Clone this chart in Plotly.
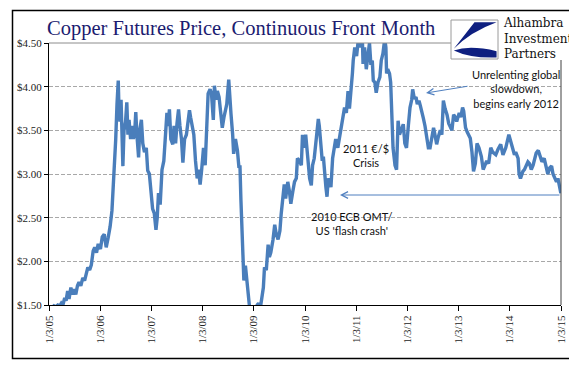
import plotly.graph_objects as go

# ---------------- data ----------------
p2005 = [("2005-01-03",1.48),("2005-01-20",1.46),("2005-02-07",1.49),("2005-02-22",1.48),("2005-03-07",1.50),
         ("2005-03-21",1.49),("2005-04-01",1.52),("2005-04-12",1.50),("2005-04-25",1.58),("2005-05-05",1.55),
         ("2005-05-16",1.66),("2005-05-26",1.57),("2005-06-08",1.70),("2005-06-20",1.62),("2005-07-01",1.68),
         ("2005-07-13",1.62),("2005-07-25",1.72),("2005-08-05",1.76),("2005-08-18",1.72),("2005-09-01",1.81),
         ("2005-09-14",1.78),("2005-09-26",1.88),("2005-10-07",1.93),("2005-10-20",1.90),("2005-11-01",1.96),
         ("2005-11-14",2.12),("2005-11-25",2.16),("2005-12-08",2.10),("2005-12-20",2.20)]
p2006 = [("2006-01-05",2.14),("2006-01-18",2.28),("2006-02-01",2.31),("2006-02-15",2.16),("2006-03-01",2.27),
         ("2006-03-15",2.40),("2006-03-28",2.58),("2006-04-07",2.85),("2006-04-14",3.19),("2006-04-24",3.40),
         ("2006-05-03",3.80),("2006-05-08",3.99),("2006-05-12",4.07),("2006-05-17",3.75),("2006-05-24",3.60),
         ("2006-06-01",3.85),("2006-06-08",3.40),("2006-06-14",3.09),("2006-06-22",3.50),("2006-07-03",3.60),
         ("2006-07-12",3.82),("2006-07-20",3.45),("2006-07-28",3.62),("2006-08-08",3.40),("2006-08-17",3.55),
         ("2006-08-28",3.40),("2006-09-07",3.50),("2006-09-14",3.71),("2006-09-22",3.45),("2006-10-04",3.19),
         ("2006-10-12",3.50),("2006-10-24",3.62),("2006-11-03",3.35),("2006-11-15",3.25),("2006-11-28",3.30),
         ("2006-12-08",3.04),("2006-12-20",3.00)]
p2007 = [("2007-01-03",2.80),("2007-01-12",2.60),("2007-01-24",2.55),("2007-02-05",2.36),("2007-02-14",2.50),
         ("2007-02-23",2.78),("2007-03-07",2.65),("2007-03-20",3.05),("2007-04-02",3.15),("2007-04-12",3.45),
         ("2007-04-24",3.70),("2007-05-03",3.55),("2007-05-12",3.74),("2007-05-22",3.40),("2007-06-05",3.34),
         ("2007-06-14",3.55),("2007-06-25",3.35),("2007-07-05",3.58),("2007-07-16",3.74),("2007-07-26",3.55),
         ("2007-08-06",3.40),("2007-08-16",3.13),("2007-08-28",3.40),("2007-09-10",3.45),("2007-09-20",3.55),
         ("2007-10-02",3.73),("2007-10-10",3.65),("2007-10-22",3.52),("2007-11-02",3.45),("2007-11-14",3.15),
         ("2007-11-26",2.95),("2007-12-06",3.05),("2007-12-17",2.88),("2007-12-28",3.05)]
p2008 = [("2008-01-10",3.30),("2008-01-22",3.10),("2008-02-04",3.50),("2008-02-12",3.92),("2008-02-26",3.97),
         ("2008-03-07",3.92),("2008-03-20",3.62),("2008-03-28",4.01),("2008-04-08",3.85),("2008-04-18",3.95),
         ("2008-04-30",3.88),("2008-05-12",3.70),("2008-05-23",3.53),("2008-06-04",3.65),("2008-06-14",3.74),
         ("2008-06-24",3.80),("2008-07-08",4.08),("2008-07-16",3.85),("2008-07-24",3.69),("2008-08-05",3.45),
         ("2008-08-12",3.23),("2008-08-25",3.40),("2008-09-08",3.27),("2008-09-19",3.07),("2008-09-26",3.10),
         ("2008-10-03",2.70),("2008-10-08",2.45),("2008-10-15",2.08),("2008-10-24",1.78),("2008-11-04",1.95),
         ("2008-11-12",1.80),("2008-11-20",1.62),("2008-12-05",1.45),("2008-12-12",1.40),("2008-12-23",1.30)]
p2009 = [("2009-01-05",1.45),("2009-01-15",1.40),("2009-01-27",1.50),("2009-02-06",1.52),("2009-02-17",1.45),
         ("2009-03-02",1.58),("2009-03-12",1.70),("2009-03-20",1.93),("2009-04-02",1.90),("2009-04-15",2.19),
         ("2009-04-24",2.05),("2009-05-04",2.10),("2009-05-20",2.25),("2009-06-01",2.42),("2009-06-12",2.31),
         ("2009-06-25",2.25),("2009-07-08",2.35),("2009-07-17",2.54),("2009-07-28",2.70),("2009-08-08",2.88),
         ("2009-08-18",2.72),("2009-09-02",2.91),("2009-09-14",2.80),("2009-09-24",2.66),("2009-10-08",2.80),
         ("2009-10-20",2.91),("2009-11-02",2.95),("2009-11-10",3.18),("2009-11-25",3.15),("2009-12-08",3.10),
         ("2009-12-16",3.45),("2009-12-31",3.30)]
p2010 = [("2010-01-08",3.45),("2010-01-22",3.18),("2010-02-05",2.95),("2010-02-17",2.87),("2010-02-26",3.10),
         ("2010-03-10",3.18),("2010-03-22",3.40),("2010-04-08",3.63),("2010-04-15",3.55),("2010-04-26",3.37),
         ("2010-05-06",3.15),("2010-05-14",3.20),("2010-05-22",3.00),("2010-06-01",2.85),("2010-06-09",2.74),
         ("2010-06-18",2.95),("2010-06-27",2.91),("2010-07-07",2.85),("2010-07-19",3.18),("2010-07-30",3.30),
         ("2010-08-10",3.40),("2010-08-25",3.30),("2010-09-08",3.45),("2010-09-20",3.57),("2010-10-01",3.65),
         ("2010-10-12",3.76),("2010-10-25",3.70),("2010-11-06",3.95),("2010-11-16",3.75),("2010-11-28",4.07),
         ("2010-12-07",4.15),("2010-12-13",4.30),("2010-12-24",4.45)]
p2011 = [("2011-01-06",4.35),("2011-01-19",4.55),("2011-01-28",4.45),("2011-02-09",4.55),("2011-02-15",4.62),
         ("2011-02-21",4.26),("2011-03-04",4.45),("2011-03-16",4.20),("2011-03-29",4.38),("2011-04-08",4.50),
         ("2011-04-18",4.25),("2011-04-28",4.30),("2011-05-05",4.07),("2011-05-16",4.05),("2011-05-26",3.93),
         ("2011-06-08",4.05),("2011-06-21",4.11),("2011-07-01",4.30),("2011-07-13",4.38),("2011-07-26",4.55),
         ("2011-08-03",4.45),("2011-08-08",4.15),("2011-08-16",4.20),("2011-08-29",4.15),("2011-09-06",4.05),
         ("2011-09-12",3.76),("2011-09-23",3.30),("2011-09-30",3.20),("2011-10-07",3.10),("2011-10-18",3.05),
         ("2011-10-29",3.61),("2011-11-08",3.45),("2011-11-20",3.50),("2011-12-05",3.57),("2011-12-16",3.35),
         ("2011-12-28",3.30)]
p2012 = [("2012-01-10",3.55),("2012-01-22",3.76),("2012-02-03",3.85),("2012-02-10",3.97),("2012-02-22",3.86),
         ("2012-03-05",3.88),("2012-03-14",3.80),("2012-03-26",3.84),("2012-04-05",3.78),("2012-04-16",3.68),
         ("2012-04-26",3.64),("2012-05-08",3.55),("2012-05-22",3.37),("2012-06-01",3.30),("2012-06-13",3.30),
         ("2012-06-25",3.40),("2012-07-08",3.53),("2012-07-18",3.45),("2012-07-30",3.34),("2012-08-10",3.42),
         ("2012-08-25",3.50),("2012-09-05",3.45),("2012-09-16",3.84),("2012-09-28",3.75),("2012-10-12",3.68),
         ("2012-10-24",3.58),("2012-11-06",3.53),("2012-11-16",3.50),("2012-11-28",3.68),("2012-12-10",3.65),
         ("2012-12-20",3.60)]
p2013 = [("2013-01-07",3.70),("2013-01-18",3.65),("2013-01-31",3.76),("2013-02-08",3.72),("2013-02-21",3.53),
         ("2013-03-05",3.48),("2013-03-27",3.41),("2013-04-08",3.25),("2013-04-19",3.03),("2013-05-02",3.12),
         ("2013-05-14",3.35),("2013-05-28",3.30),("2013-06-14",3.20),("2013-06-27",3.05),("2013-07-10",3.10),
         ("2013-07-22",3.15),("2013-08-05",3.12),("2013-08-20",3.30),("2013-09-03",3.25),("2013-09-25",3.22),
         ("2013-10-10",3.28),("2013-10-30",3.34),("2013-11-15",3.22),("2013-12-05",3.30),("2013-12-27",3.45)]
p2014 = [("2014-01-10",3.35),("2014-01-22",3.30),("2014-02-05",3.22),("2014-02-14",3.25),("2014-03-03",3.18),
         ("2014-03-10",3.00),("2014-03-20",2.95),("2014-04-06",3.03),("2014-04-17",3.05),("2014-04-30",3.10),
         ("2014-05-12",3.14),("2014-05-23",3.12),("2014-06-05",3.05),("2014-06-18",3.10),("2014-07-01",3.18),
         ("2014-07-10",3.24),("2014-07-25",3.27),("2014-08-08",3.18),("2014-08-20",3.14),("2014-09-05",3.18),
         ("2014-09-20",3.07),("2014-10-01",3.00),("2014-10-14",3.07),("2014-10-28",3.09),("2014-11-07",3.00),
         ("2014-11-18",2.95),("2014-12-02",2.91),("2014-12-12",2.95),("2014-12-22",2.85),("2015-01-02",2.78)]

tick_dates = ["2005-01-03","2006-01-03","2007-01-03","2008-01-03","2009-01-03","2010-01-03",
              "2011-01-03","2012-01-03","2013-01-03","2014-01-03","2015-01-03"]
tick_labels = ["1/3/05","1/3/06","1/3/07","1/3/08","1/3/09","1/3/10",
               "1/3/11","1/3/12","1/3/13","1/3/14","1/3/15"]
y_ticks = [1.5, 2.0, 2.5, 3.0, 3.5, 4.0, 4.5]
y_labels = ["$1.50", "$2.00", "$2.50", "$3.00", "$3.50", "$4.00", "$4.50"]

series = p2005 + p2006 + p2007 + p2008 + p2009 + p2010 + p2011 + p2012 + p2013 + p2014
dates = [d for d, _ in series]
prices = [v for _, v in series]

# ---------------- layout helpers ----------------
W, H = 577, 368
PL, PR, PT, PB = 41, 553, 35, 297   # plot area in pixels

def px(x, y):
    return (x - PL) / (PR - PL), (PB - y) / (PB - PT)

def rect(x0, y0, x1, y1, **kw):
    a, b = px(x0, y0)
    c, d = px(x1, y1)
    return dict(type="rect", xref="paper", yref="paper", x0=a, y0=d, x1=c, y1=b, **kw)

def line(x0, y0, x1, y1, **kw):
    a, b = px(x0, y0)
    c, d = px(x1, y1)
    return dict(type="line", xref="paper", yref="paper", x0=a, y0=b, x1=c, y1=d, **kw)

# logo box
LX0, LY0, LX1, LY1 = 443, 12, 490, 51
def lb(u, v):
    x, y = px(LX0 + u * (LX1 - LX0), LY0 + v * (LY1 - LY0))
    return f"{x:.5f},{y:.5f}"

fig = go.Figure()
fig.add_trace(go.Scatter(x=dates, y=prices, mode="lines",
                         line=dict(color="#4A7EBB", width=3.4), showlegend=False,
                         hoverinfo="skip"))

shapes = [
    line(PL, PT, 443, PT, line=dict(color="#8C8C8C", width=1), layer="above"),
    rect(443, 3, 572, 51.5, fillcolor="white", line=dict(width=0), layer="above"),
    line(PR, 52, PR, PB, line=dict(color="#404040", width=1), layer="above"),
    rect(LX0, LY0, LX1, LY1, fillcolor="white", line=dict(color="#9A9A9A", width=1), layer="above"),
    dict(type="path", xref="paper", yref="paper", layer="above",
         path=f"M{lb(0.50,0.06)} L{lb(0.97,0.06)} Q{lb(0.42,0.30)} {lb(0.06,0.74)} Z",
         fillcolor="#0E1F80", line=dict(width=0)),
    dict(type="path", xref="paper", yref="paper", layer="above",
         path=f"M{lb(0.06,0.78)} Q{lb(0.40,0.64)} {lb(0.97,0.80)} L{lb(0.97,0.96)} Q{lb(0.40,0.98)} {lb(0.06,0.78)} Z",
         fillcolor="#0E1F80", line=dict(width=0)),
    rect(4.5, 2.5, 572.5, 350.5, fillcolor="rgba(0,0,0,0)", line=dict(color="black", width=1.5), layer="above"),
]

def ann(x, y, text, size, family, color="#111", xanchor="center", yanchor="middle", align="center"):
    a, b = px(x, y)
    return dict(x=a, y=b, xref="paper", yref="paper", text=text, showarrow=False,
                xanchor=xanchor, yanchor=yanchor, align=align,
                font=dict(size=size, family=family, color=color))

def arrow(xh, yh, xt, yt):
    a, b = px(xh, yh)
    return dict(x=a, y=b, xref="paper", yref="paper", text="", showarrow=True,
                ax=xt - xh, ay=yt - yh, arrowhead=5, arrowsize=1.3, arrowwidth=1,
                arrowcolor="#4F7FBF", standoff=0, startstandoff=0)

annotations = [
    ann(37, 20, "Copper Futures Price, Continuous Front Month", 20.5, "Liberation Serif",
        color="#1B1B70", xanchor="left"),
    ann(493, 31, "Alhambra<br>Investment<br>Partners", 12, "DejaVu Serif", xanchor="left", align="left"),
    ann(508, 81, "Unrelenting global<br>slowdown,<br>begins early 2012", 11, "Lato"),
    ann(358, 147, "2011 €/$<br>Crisis", 11, "Lato"),
    ann(344, 215, "2010 ECB OMT/<br>US 'flash crash'", 11, "Lato"),
    arrow(418, 85, 461, 78),
    arrow(332, 187, 553, 187),
]

fig.update_layout(
    template="none",
    width=W, height=H,
    margin=dict(l=PL, r=W - PR, t=PT, b=H - PB, pad=0),
    paper_bgcolor="white", plot_bgcolor="white",
    showlegend=False,
    shapes=shapes,
    annotations=annotations,
    xaxis=dict(type="date", range=[tick_dates[0], tick_dates[-1]],
               tickvals=tick_dates, ticktext=tick_labels, tickangle=-90,
               showgrid=False, zeroline=False, showline=True, linecolor="black", linewidth=1,
               ticks="outside", ticklen=5, tickcolor="black", automargin=False,
               tickfont=dict(family="Liberation Serif", size=11, color="#222")),
    yaxis=dict(range=[y_ticks[0], y_ticks[-1]], tickvals=y_ticks, ticktext=y_labels,
               showgrid=True, gridcolor="#A8A8A8", gridwidth=1, griddash="4px,2px",
               zeroline=False, showline=True, linecolor="black", linewidth=1,
               ticks="outside", ticklen=4, tickcolor="black", automargin=False,
               tickfont=dict(family="Liberation Serif", size=11, color="#222")),
)

fig.write_html("out.html")
